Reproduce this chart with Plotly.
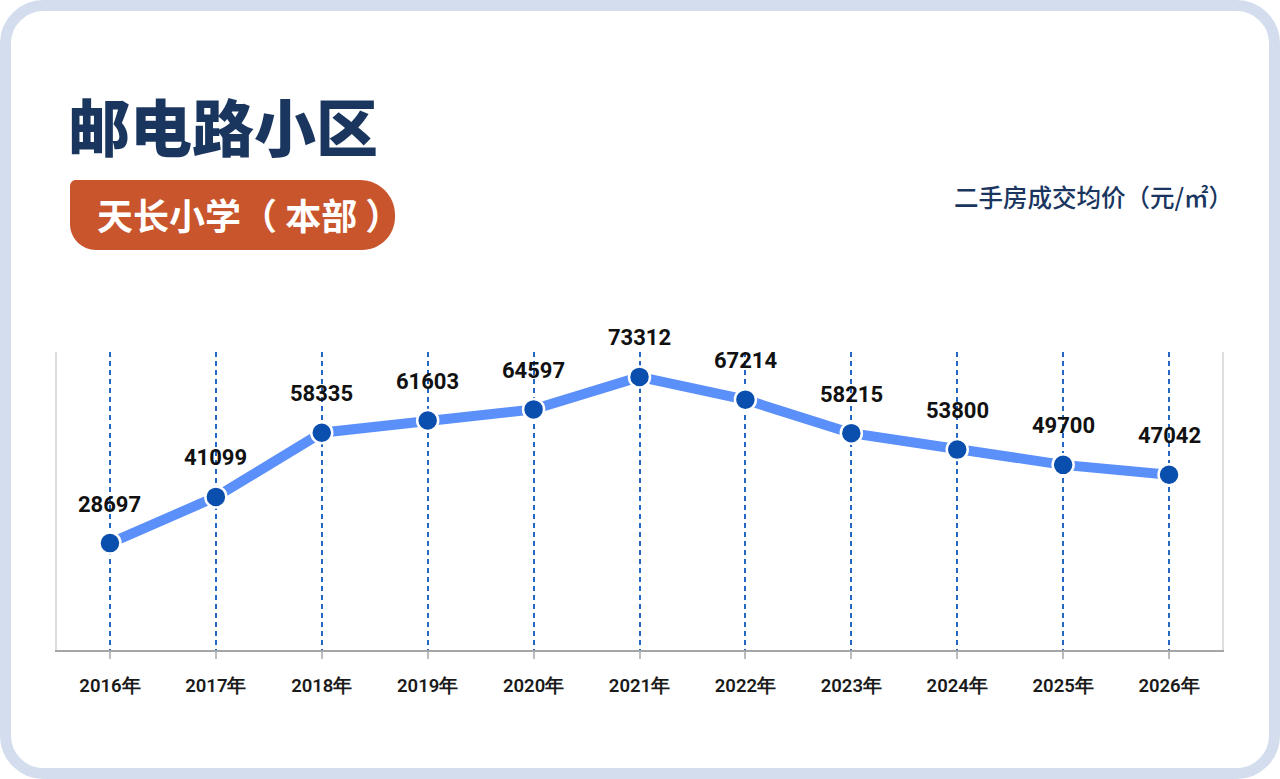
import plotly.graph_objects as go

years = ["2016年", "2017年", "2018年", "2019年", "2020年", "2021年",
         "2022年", "2023年", "2024年", "2025年", "2026年"]
prices = [28697, 41099, 58335, 61603, 64597, 73312, 67214, 58215, 53800, 49700, 47042]
title_text = "邮电路小区"
badge_text = "天长小学（ 本部 ）"
unit_text = "二手房成交均价（元/㎡）"

W, H = 1280, 779
L, R, T, B = 57, 1222, 352, 650  # plot area in px


def xp(px):
    return (px - L) / (R - L)


def yp(py):
    return (B - py) / (B - T)


def rounded_path(x0, y0, x1, y1, rtl, rtr, rbr, rbl):
    k = 0.5523
    def P(x, y):
        return f"{xp(x):.5f},{yp(y):.5f}"
    d = f"M {P(x0 + rtl, y0)} L {P(x1 - rtr, y0)} "
    d += f"C {P(x1 - rtr + k * rtr, y0)} {P(x1, y0 + rtr - k * rtr)} {P(x1, y0 + rtr)} "
    d += f"L {P(x1, y1 - rbr)} "
    d += f"C {P(x1, y1 - rbr + k * rbr)} {P(x1 - rbr + k * rbr, y1)} {P(x1 - rbr, y1)} "
    d += f"L {P(x0 + rbl, y1)} "
    d += f"C {P(x0 + rbl - k * rbl, y1)} {P(x0, y1 - rbl + k * rbl)} {P(x0, y1 - rbl)} "
    d += f"L {P(x0, y0 + rtl)} "
    d += f"C {P(x0, y0 + rtl - k * rtl)} {P(x0 + rtl - k * rtl, y0)} {P(x0 + rtl, y0)} Z"
    return d


fig = go.Figure()
fig.add_trace(go.Scatter(
    x=years, y=prices, mode="lines+markers",
    line=dict(color="#5b8ff9", width=10),
    marker=dict(size=21, color="#0a4fae", line=dict(color="white", width=2.5)),
    hoverinfo="skip", showlegend=False, cliponaxis=False,
))

for yr, v in zip(years, prices):
    fig.add_annotation(x=yr, y=v, text=f"<b>{v}</b>", showarrow=False,
                       yshift=39, font=dict(family="Roboto", size=22, color="#111111"))

# frame
fig.add_shape(type="path", xref="paper", yref="paper",
              path=rounded_path(5.5, 5.5, W - 5.5, H - 5.5, 38, 38, 38, 38),
              line=dict(color="#d3ddee", width=11), fillcolor="rgba(0,0,0,0)", layer="above")
# badge
fig.add_shape(type="path", xref="paper", yref="paper",
              path=rounded_path(70, 180, 395, 250, 6, 35, 33, 26),
              line=dict(width=0), fillcolor="#c9552c", layer="above")

fig.add_annotation(xref="paper", yref="paper", x=xp(66), y=yp(125), xanchor="left", yanchor="middle",
                   text=title_text, showarrow=False,
                   font=dict(family="Noto Sans CJK SC", size=62, color="#1a365f", weight=900))
fig.add_annotation(xref="paper", yref="paper", x=xp(95), y=yp(214), xanchor="left", yanchor="middle",
                   text=badge_text, showarrow=False,
                   font=dict(family="Noto Sans CJK SC", size=36, color="white", weight=700))
fig.add_annotation(xref="paper", yref="paper", x=xp(1235), y=yp(196), xanchor="right", yanchor="middle",
                   text=unit_text, showarrow=False,
                   font=dict(family="Noto Sans CJK SC", size=24.5, color="#1a365f", weight=500))

fig.update_layout(
    width=W, height=H,
    margin=dict(l=L, r=W - R, t=T, b=H - B),
    paper_bgcolor="white", plot_bgcolor="white",
    xaxis=dict(
        type="category", range=[-0.5, len(years) - 0.5],
        showgrid=True, gridcolor="#2466c4", gridwidth=1.5, griddash="5px,4px",
        showline=True, linecolor="#a6a6a6", linewidth=2,
        ticks="outside", ticklen=7, tickcolor="#bdbdbd", tickwidth=1.5,
        ticklabelstandoff=11,
        tickfont=dict(family="Roboto", size=18.5, color="#1a1a1a", weight=600),
        zeroline=False, fixedrange=True,
    ),
    yaxis=dict(
        range=[0, 80000], showgrid=False, zeroline=False, showticklabels=False,
        showline=True, linecolor="#dedede", linewidth=1.5, mirror=True, ticks="",
        fixedrange=True,
    ),
)

fig.write_html("out.html", config={"displayModeBar": False},
               post_script="document.body.style.margin='0';document.body.style.overflow='hidden';")
